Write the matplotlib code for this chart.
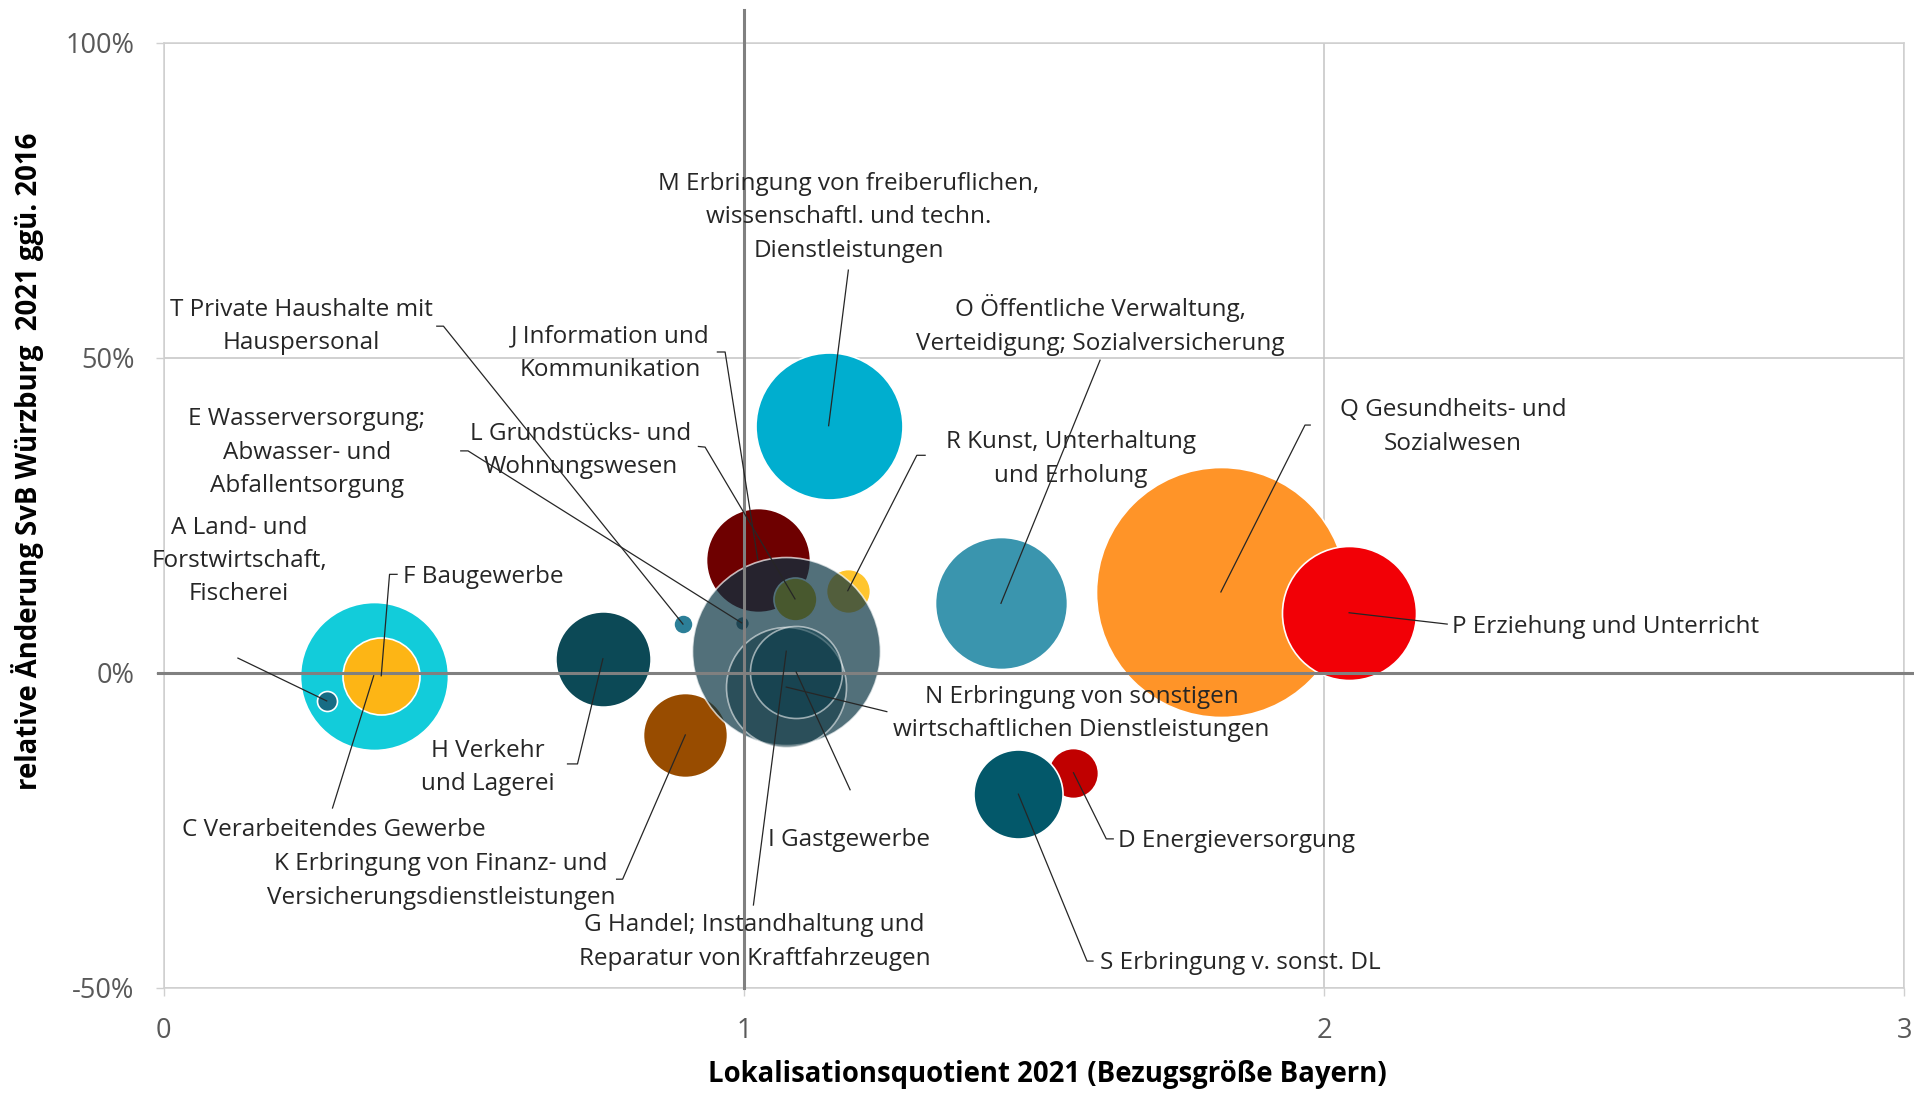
"""
Bubble chart: Lokalisationsquotient vs. relative Aenderung SvB Wuerzburg 2021/2016
Writes out.png
"""

import matplotlib.pyplot as plt
from matplotlib.ticker import PercentFormatter


# 1. Data

branchen = ["A", "C", "D", "E", "F", "G", "H", "I", "J", "K",
            "L", "M", "N", "O", "P", "Q", "R", "S", "T"]

# Lokalisationsquotient 2021 (Bezugsgroesse Bayern)
lq_2021 = [0.281, 0.362, 1.568, 0.996, 0.375, 1.073, 0.757, 1.090, 1.024, 0.899,
           1.088, 1.146, 1.073, 1.443, 2.043, 1.822, 1.179, 1.473, 0.895]

# relative Aenderung SvB 2021 ggue. 2016
aenderung = [-0.045, -0.005, -0.159, 0.079, -0.005, 0.034, 0.022, 0.001, 0.179, -0.099,
             0.117, 0.392, -0.023, 0.110, 0.095, 0.128, 0.130, -0.193, 0.077]

# bubble size (SvB 2021)
svb_2021 = [120, 6570, 750, 45, 1780, 10600, 2720, 2540, 3245, 2120,
            555, 6480, 4320, 5230, 5390, 18750, 580, 2380, 110]

beschriftung = {
    "A": "A Land- und\nForstwirtschaft,\nFischerei",
    "C": "C Verarbeitendes Gewerbe",
    "D": "D Energieversorgung",
    "E": "E Wasserversorgung;\nAbwasser- und\nAbfallentsorgung",
    "F": "F Baugewerbe",
    "G": "G Handel; Instandhaltung und\nReparatur von Kraftfahrzeugen",
    "H": "H Verkehr\nund Lagerei",
    "I": "I Gastgewerbe",
    "J": "J Information und\nKommunikation",
    "K": "K Erbringung von Finanz- und\nVersicherungsdienstleistungen",
    "L": "L Grundstücks- und\nWohnungswesen",
    "M": "M Erbringung von freiberuflichen,\nwissenschaftl. und techn.\nDienstleistungen",
    "N": "N Erbringung von sonstigen\nwirtschaftlichen Dienstleistungen",
    "O": "O Öffentliche Verwaltung,\nVerteidigung; Sozialversicherung",
    "P": "P Erziehung und Unterricht",
    "Q": "Q Gesundheits- und\nSozialwesen",
    "R": "R Kunst, Unterhaltung\nund Erholung",
    "S": "S Erbringung v. sonst. DL",
    "T": "T Private Haushalte mit\nHauspersonal",
}

y_ticks = [-0.5, 0.0, 0.5, 1.0]
x_ticks = [0, 1, 2, 3]


# 2. Styles and layout

farben = {
    "A": "#176C84", "C": "#12CCDA", "D": "#C00000", "E": "#52707B",
    "F": "#FDB515", "G": "#083342", "H": "#0C4956", "I": "#0A3C4A",
    "J": "#6E0000", "K": "#984C00", "L": "#E0B000", "M": "#00AECF",
    "N": "#0B3440", "O": "#3A95AE", "P": "#F20006", "Q": "#FF9428",
    "R": "#FFC52E", "S": "#03586A", "T": "#2C7F98",
}
alpha = {"G": 0.7, "N": 0.55, "I": 0.55}
kante = {"E": 0.0}

# drawing order: everything under the translucent G bubble first
reihenfolge = ["C", "F", "A", "H", "K", "T", "E", "J", "L", "R", "M",
               "O", "Q", "P", "D", "S", "G", "N", "I"]

# label position (data coords) and alignment
text_pos = {
    "A": (0.130, 0.177, "center"), "C": (0.294, -0.250, "center"),
    "D": (1.645, -0.268, "left"), "E": (0.247, 0.349, "center"),
    "F": (0.413, 0.152, "left"), "G": (1.018, -0.428, "center"),
    "H": (0.559, -0.151, "center"), "I": (1.042, -0.266, "left"),
    "J": (0.769, 0.507, "center"), "K": (0.478, -0.331, "center"),
    "L": (0.719, 0.353, "center"), "M": (1.181, 0.723, "center"),
    "N": (1.582, -0.065, "center"), "O": (1.614, 0.552, "center"),
    "P": (2.221, 0.072, "left"), "Q": (2.222, 0.390, "center"),
    "R": (1.564, 0.339, "center"), "S": (1.614, -0.461, "left"),
    "T": (0.237, 0.549, "center"),
}

# leader line points from the label side, the bubble centre is added below
leader = {
    "A": [(0.128, 0.023)],
    "C": [(0.291, -0.215)],
    "D": [(1.6365, -0.264), (1.6245, -0.264)],
    "E": [(0.512, 0.352), (0.5246, 0.352)],
    "F": [(0.4023, 0.156), (0.3893, 0.156)],
    "G": [(1.0164, -0.369)],
    "H": [(0.696, -0.145), (0.7132, -0.145)],
    "I": [(1.183, -0.186)],
    "J": [(0.9543, 0.509), (0.9676, 0.509)],
    "K": [(0.7806, -0.328), (0.791, -0.328)],
    "L": [(0.9216, 0.359), (0.9331, 0.358)],
    "M": [(1.180, 0.639)],
    "N": [(1.2463, -0.062)],
    "O": [(1.6138, 0.496)],
    "P": [(2.212, 0.077)],
    "Q": [(1.976, 0.393), (1.967, 0.393)],
    "R": [(1.3123, 0.345), (1.298, 0.345)],
    "S": [(1.6016, -0.458), (1.5913, -0.458)],
    "T": [(0.4707, 0.550), (0.4822, 0.550)],
}

SIZE_SCALE = 1.728
LABEL_SIZE = 17.5
TICK_COLOR = "#595959"
GRID_COLOR = "#C4C4C4"
AXIS_COLOR = "#808080"

plt.rcParams["font.family"] = ["Open Sans", "DejaVu Sans"]
plt.rcParams["axes.unicode_minus"] = False


# 3. Figure

fig = plt.figure(figsize=(19.14, 10.93), dpi=100)
ax = fig.add_axes([0.0855, 0.0965, 0.9095, 0.8644])

ax.set_xlim(0, 3)
ax.set_ylim(-0.5, 1.0)
ax.set_xticks(x_ticks)
ax.set_yticks(y_ticks)
ax.yaxis.set_major_formatter(PercentFormatter(1.0, decimals=0))
ax.tick_params(axis="both", length=6, width=1, color="#D0D0D0",
               labelcolor=TICK_COLOR, labelsize=19.5, pad=15)

for spine in ax.spines.values():
    spine.set_color("#D0D0D0")
    spine.set_linewidth(1.1)

ax.grid(True, color=GRID_COLOR, linewidth=1.1, zorder=0)
ax.set_axisbelow(True)

# bubbles
for key in reihenfolge:
    i = branchen.index(key)
    ax.scatter(lq_2021[i], aenderung[i], s=svb_2021[i] * SIZE_SCALE,
               color=farben[key], alpha=alpha.get(key, 1.0),
               edgecolors="white", linewidths=kante.get(key, 1.2), zorder=2)

# crossing lines at LQ = 1 and 0 %
ax.axvline(1, ymin=0.0, ymax=1.035, color=AXIS_COLOR, linewidth=2.2,
           zorder=3, clip_on=False)
ax.axhline(0, xmin=-0.003, xmax=1.006, color=AXIS_COLOR, linewidth=2.2,
           zorder=3, clip_on=False)

# labels and leader lines
for key in branchen:
    i = branchen.index(key)
    tx, ty, ha = text_pos[key]
    ax.text(tx, ty, beschriftung[key], ha=ha, va="center",
            multialignment="center", fontsize=LABEL_SIZE, color="#262626",
            linespacing=1.52, zorder=5)
    punkte = leader[key] + [(lq_2021[i], aenderung[i])]
    ax.plot([p[0] for p in punkte], [p[1] for p in punkte],
            color="#262626", linewidth=0.9, zorder=4)

fig.text(0.547, 0.0165, "Lokalisationsquotient 2021 (Bezugsgröße Bayern)",
         ha="center", va="center", fontsize=19.8, fontweight="bold")
fig.text(0.0145, 0.578, "relative Änderung SvB Würzburg  2021 ggü. 2016",
         ha="center", va="center", rotation=90, fontsize=19.8,
         fontweight="bold")

fig.savefig("out.png", dpi=100)
plt.close(fig)
